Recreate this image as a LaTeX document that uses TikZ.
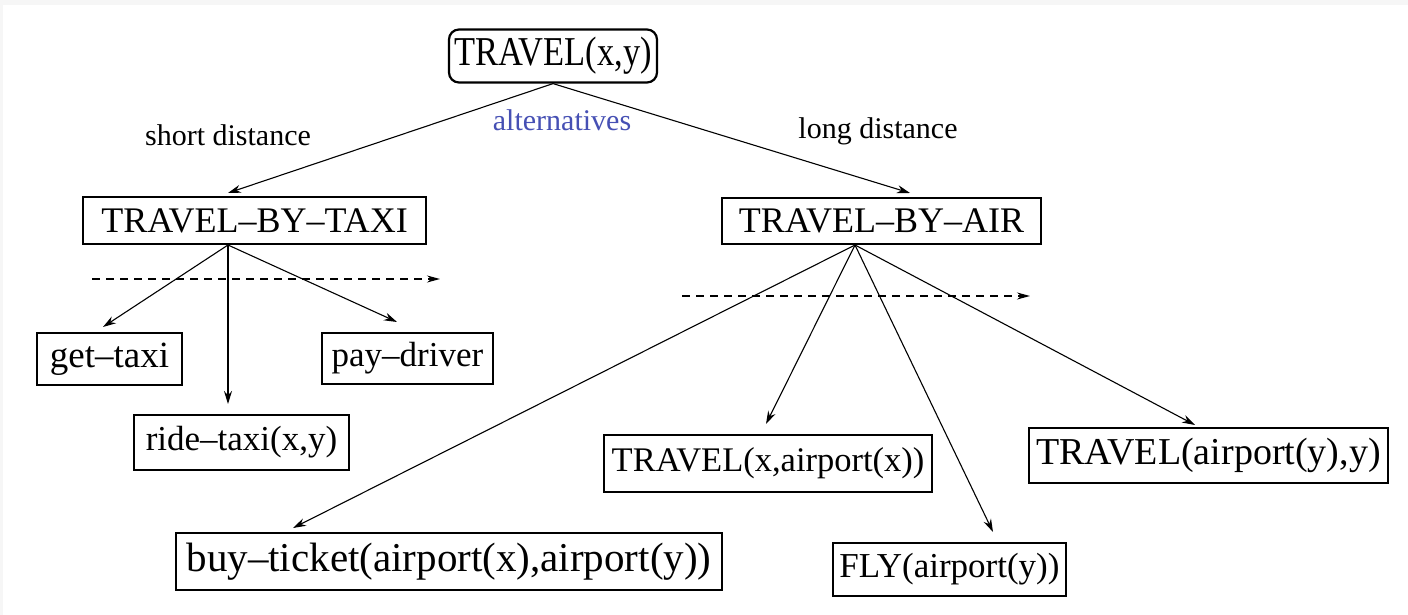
\documentclass[tikz,border=0pt]{standalone}
\usepackage{fontspec}
\setmainfont{Liberation Serif}
\usetikzlibrary{arrows.meta}
\definecolor{altblue}{RGB}{70,80,180}
\definecolor{edgegray}{RGB}{246,246,246}
\newcommand{\fs}[1]{\fontsize{#1}{#1}\selectfont}
\tikzset{
  box/.style={draw, line width=1.6pt, inner sep=0pt, align=center},
  lbl/.style={inner sep=0pt, anchor=base, font=\fs{30}},
  edge/.style={line width=1.1pt, -{Stealth[length=13pt,width=8pt]}},
  seq/.style={line width=1.3pt, dash pattern=on 8pt off 6pt, -{Stealth[length=13pt,width=7pt]}},
}
\begin{document}
\begin{tikzpicture}[x=1pt,y=-1pt]
  % page frame
  \fill[edgegray] (0,0) rectangle (1408,615);
  \fill[white] (3,5) rectangle (1408,615);
  \useasboundingbox (0,0) rectangle (1408,615);

  % task nodes
  \node[box, rounded corners=10pt, line width=2.2pt, minimum width=208pt, minimum height=53pt]
    (travel) at (553,56) {\fs{41}\scalebox{0.84}[1]{TRAVEL(x,y)}};
  \node[box, minimum width=343pt, minimum height=47pt, font=\fs{36}]
    (taxi) at (254.5,220.5) {TRAVEL–BY–TAXI};
  \node[box, minimum width=319pt, minimum height=46pt, font=\fs{36}]
    (air) at (881.5,221) {TRAVEL–BY–AIR};
  \node[box, minimum width=145pt, minimum height=52pt, font=\fs{37}]
    (get) at (109.5,359) {get–taxi};
  \node[box, minimum width=171pt, minimum height=51pt, font=\fs{35}]
    (pay) at (407.5,358.5) {pay–driver};
  \node[box, minimum width=215pt, minimum height=55pt, font=\fs{35}]
    (ride) at (241.5,442.5) {ride–taxi(x,y)};
  \node[box, minimum width=328pt, minimum height=57pt, font=\fs{34.5}]
    (tx) at (768,463.5) {TRAVEL(x,airport(x))};
  \node[box, minimum width=359pt, minimum height=55pt, font=\fs{38}]
    (ty) at (1208.5,455.5) {TRAVEL(airport(y),y)};
  \node[box, minimum width=546pt, minimum height=57pt, font=\fs{41}]
    (buy) at (449,561.5) {buy–ticket(airport(x),airport(y))};
  \node[box, minimum width=233pt, minimum height=53pt, font=\fs{35}]
    (fly) at (949.5,569.5) {FLY(airport(y))};

  % labels
  \node[lbl] (short) at (228,146) {short distance};
  \node[lbl, text=altblue] (alt) at (562,131) {alternatives};
  \node[lbl] (long) at (878,139) {long distance};

  % connector end points
  \coordinate (tTaxi) at (228,193);
  \coordinate (tAir) at (910,193);
  \coordinate (taxiOut) at (228,245);
  \coordinate (airOut) at (855,245);
  \coordinate (tGet) at (103,327);
  \coordinate (tRide) at (228,404);
  \coordinate (tPay) at (397,322);
  \coordinate (tBuy) at (293,528);
  \coordinate (tTx) at (766,424);
  \coordinate (tFly) at (993,532);
  \coordinate (tTy) at (1195,425);
  \coordinate (sTaxiA) at (92,279);
  \coordinate (sTaxiB) at (440,279);
  \coordinate (sAirA) at (682,296);
  \coordinate (sAirB) at (1030,296);

  % alternatives
  \draw[edge] (travel.south) -- (tTaxi);
  \draw[edge] (travel.south) -- (tAir);

  % taxi decomposition
  \draw[edge] (taxiOut) -- (tGet);
  \draw[edge, line width=1.6pt] (taxiOut) -- (tRide);
  \draw[edge] (taxiOut) -- (tPay);
  \draw[seq] (sTaxiA) -- (sTaxiB);

  % air decomposition
  \draw[edge] (airOut) -- (tBuy);
  \draw[edge] (airOut) -- (tTx);
  \draw[edge] (airOut) -- (tFly);
  \draw[edge] (airOut) -- (tTy);
  \draw[seq] (sAirA) -- (sAirB);
\end{tikzpicture}
\end{document}
